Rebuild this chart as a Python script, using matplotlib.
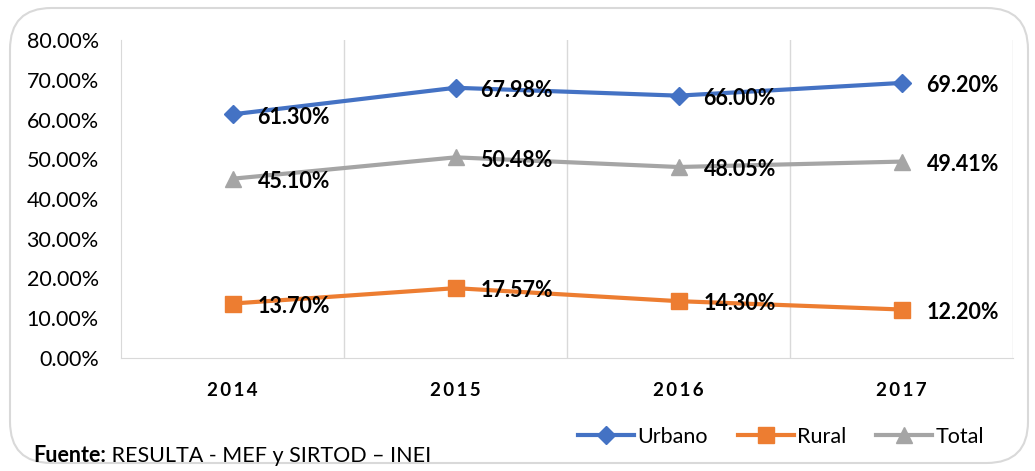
import matplotlib.pyplot as plt
from matplotlib.patches import FancyBboxPatch

# datos
years = ["2014", "2015", "2016", "2017"]
urbano = [61.30, 67.98, 66.00, 69.20]
rural = [13.70, 17.57, 14.30, 12.20]
total = [45.10, 50.48, 48.05, 49.41]
y_ticks = [0, 10, 20, 30, 40, 50, 60, 70, 80]

plt.rcParams['font.family'] = ['Lato', 'DejaVu Sans']

fig = plt.figure(figsize=(10.35, 4.71), dpi=100)

# marco redondeado
frame = FancyBboxPatch((10 / 1035, 8 / 471), 1018 / 1035, 455 / 471,
                       boxstyle="round,pad=0,rounding_size=0.04",
                       transform=fig.transFigure, facecolor='none',
                       edgecolor='#D9D9D9', linewidth=1.5, mutation_aspect=2.2,
                       zorder=-10)
fig.patches.append(frame)

ax = fig.add_axes([121 / 1035, 1 - 358 / 471, (1013 - 121) / 1035, (358 - 40) / 471])
ax.set_facecolor('none')

x = list(range(len(years)))
series = [
    ("Urbano", urbano, '#4472C4', 'D', 9),
    ("Rural", rural, '#ED7D31', 's', 11),
    ("Total", total, '#A5A5A5', '^', 11),
]
for name, vals, color, mk, ms in series:
    ax.plot(x, vals, color=color, linewidth=3, marker=mk, markersize=ms, label=name)
    for xi, v in zip(x, vals):
        ax.annotate(f"{v:.2f}%", (xi, v), xytext=(18, -2), textcoords='offset points',
                    ha='left', va='center', fontsize=15.5, fontweight='bold', color='black')

ax.set_xlim(-0.5, 3.5)
ax.set_ylim(0, 80)
ax.set_yticks(y_ticks)
ax.set_yticklabels([f"{t:.2f}%" for t in y_ticks], fontsize=15.5)
ax.set_xticks(x)
ax.set_xticklabels(['\u2009'.join(y) for y in years], fontsize=13.5, fontweight='bold')
ax.tick_params(axis='y', length=0, pad=16)
ax.tick_params(axis='x', length=0, pad=17)

for b in [0.5, 1.5, 2.5, 3.5]:
    ax.axvline(b, color='#D9D9D9', linewidth=1, zorder=0)
for s in ['top', 'right']:
    ax.spines[s].set_visible(False)
ax.spines['left'].set_color('#D9D9D9')
ax.spines['bottom'].set_color('#D9D9D9')

leg = fig.legend(loc='center', bbox_to_anchor=(781 / 1035, 1 - 437 / 471), ncol=3,
                 frameon=False, fontsize=15.5, handlelength=2.6, handletextpad=0.15,
                 columnspacing=1.4)

t1 = fig.text(33 / 1035, 1 - 456 / 471, "Fuente:", fontsize=15.5, fontweight='bold',
              va='center', ha='left')
src = fig.text(0.0, 1 - 456 / 471, " RESULTA - MEF y SIRTOD \u2013 INEI", fontsize=15.5,
               va='center', ha='left')
fig.canvas.draw()
bb = t1.get_window_extent()
src.set_position((bb.x1 / fig.bbox.width, 1 - 456 / 471))

fig.savefig("out.png", dpi=100)
